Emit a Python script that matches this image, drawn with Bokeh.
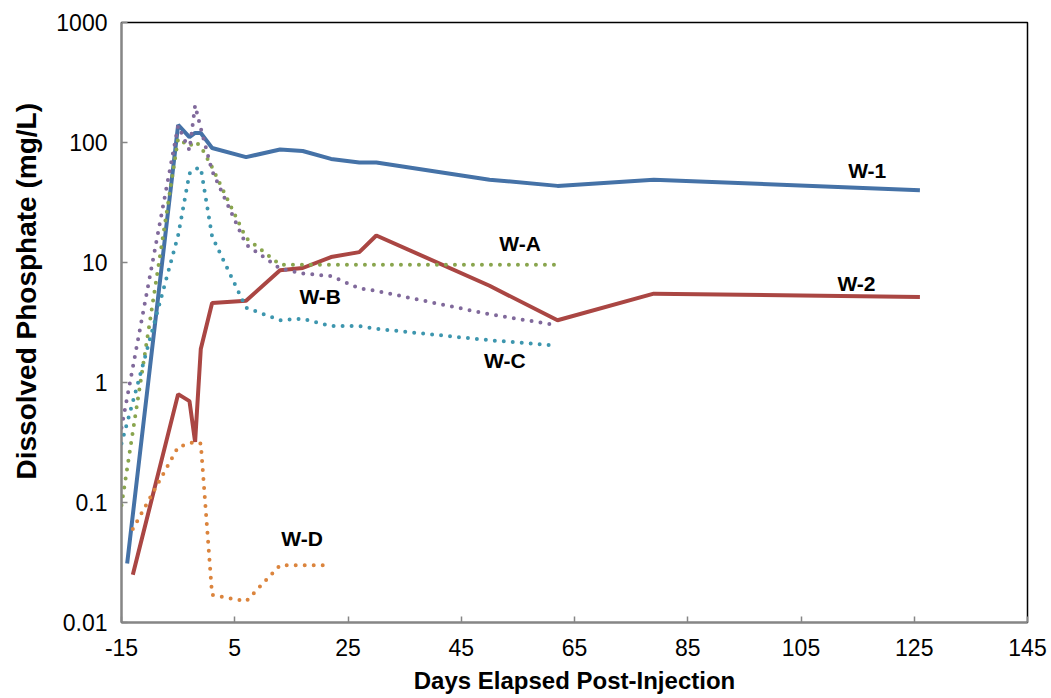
import math
from bokeh.plotting import figure
from bokeh.models import (FixedTicker, CustomJSTickFormatter, Range1d, Title,
                          ColumnDataSource)
from bokeh.core.properties import value
from bokeh.embed import file_html
from bokeh.resources import INLINE

# ---- data ----
days_w1 = [-14, -5, -3, -2, -1, 1, 7, 13, 17, 22, 27, 30, 50, 62, 79, 126]
w1 = [0.031, 140, 111, 120, 120, 90, 75.5, 87.5, 85, 73, 68, 68, 49, 43.5, 49, 40]

days_w2 = [-13, -5, -3, -2, -1, 1, 7, 13, 17, 22, 27, 30, 50, 62, 79, 126]
w2 = [0.025, 0.8, 0.7, 0.32, 1.9, 4.6, 4.8, 8.6, 9.0, 11.1, 12.2, 16.8, 6.4, 3.3, 5.5, 5.15]

days_wa = [-15, -5, -3, -2, -1, 1, 7, 13, 17, 22, 27, 30, 50, 62]
wa = [0.095, 108, 93, 102, 93, 62, 16, 9.6, 9.6, 9.6, 9.6, 9.6, 9.6, 9.6]

days_wb = [-15, -5, -3, -2, -1, 1, 7, 13, 17, 22, 27, 30, 50, 62]
wb = [0.42, 138, 86, 204, 131, 58, 14.1, 8.9, 8.1, 7.7, 6.1, 5.8, 3.7, 3.0]

days_wc = [-15, -5, -3, -2, -1, 1, 7, 13, 17, 22, 27, 30, 50, 62]
wc = [0.31, 16.8, 55, 60.5, 61.5, 16.5, 4.2, 3.3, 3.4, 2.95, 2.95, 2.8, 2.25, 2.03]

days_wd = [-13, -5, -3, -2, -1, 1, 7, 13, 17, 22]
wd = [0.06, 0.29, 0.31, 0.32, 0.31, 0.017, 0.015, 0.03, 0.03, 0.03]

label_text = ["W-1", "W-2", "W-A", "W-B", "W-C", "W-D"]
label_x = [116.7, 114.8, 55.4, 20.1, 52.7, 16.9]
label_y = [58, 6.7, 14.4, 5.2, 1.52, 0.05]

x_ticks = [-15, 5, 25, 45, 65, 85, 105, 125, 145]
y_ticks = [0.01, 0.1, 1, 10, 100, 1000]

colors = {"W-1": "#4572A7", "W-2": "#AA4643", "W-A": "#89A54E",
          "W-B": "#80699B", "W-C": "#3D96AE", "W-D": "#DB843D"}

FONT = "Liberation Sans"

p = figure(frame_width=906, frame_height=600,
           x_range=Range1d(-15, 145), y_range=Range1d(0.01, 1000),
           y_axis_type="log", output_backend="svg", toolbar_location=None,
           min_border_left=121, min_border_top=22, min_border_right=24,
           min_border_bottom=76)

p.background_fill_color = "white"
p.border_fill_color = "white"
p.outline_line_color = "black"
p.outline_line_width = 1.5
p.xgrid.visible = False
p.ygrid.visible = False

# solid lines
p.line(days_w1, w1, line_color=colors["W-1"], line_width=4)
p.line(days_w2, w2, line_color=colors["W-2"], line_width=4)
# dotted lines
for d, v, k in [(days_wa, wa, "W-A"), (days_wb, wb, "W-B"),
                (days_wc, wc, "W-C"), (days_wd, wd, "W-D")]:
    p.line(d, v, line_color=colors[k], line_width=4, line_dash="0 9",
           line_cap="round")

src = ColumnDataSource(dict(x=label_x, y=label_y, t=label_text))
p.text(x="x", y="y", text="t", source=src, text_font=value(FONT),
       text_font_style="bold", text_font_size="21px", text_align="center",
       text_baseline="middle", text_color="black")

for ax in (p.xaxis[0], p.yaxis[0]):
    ax.axis_line_color = "#868686"
    ax.axis_line_width = 2
    ax.major_tick_line_color = "#868686"
    ax.major_tick_line_width = 1.5
    ax.major_tick_in = 6
    ax.major_tick_out = 0
    ax.minor_tick_line_color = None
    ax.major_label_text_font = FONT
    ax.major_label_text_font_size = "23px"
    ax.major_label_text_color = "black"

p.xaxis.ticker = FixedTicker(ticks=x_ticks)
p.yaxis.ticker = FixedTicker(ticks=y_ticks)
p.xaxis.formatter = CustomJSTickFormatter(code="return tick.toString();")
p.yaxis.formatter = CustomJSTickFormatter(code="return tick.toString();")
p.xaxis.major_label_standoff = 16
p.yaxis.major_label_standoff = 14

p.xaxis.axis_label = "Days Elapsed Post-Injection"
p.xaxis.axis_label_text_font = FONT
p.xaxis.axis_label_text_font_style = "bold"
p.xaxis.axis_label_text_font_size = "24px"
p.xaxis.axis_label_standoff = 8
p.xaxis.axis_label_text_color = "black"

ytitle = Title(text="Dissolved Phosphate (mg/L)", align="left", offset=143,
               standoff=19, vertical_align="top", text_font=FONT,
               text_font_style="bold", text_font_size="28px",
               text_color="black")
p.add_layout(ytitle, "left")

open("out.html", "w").write(file_html(p, INLINE))
